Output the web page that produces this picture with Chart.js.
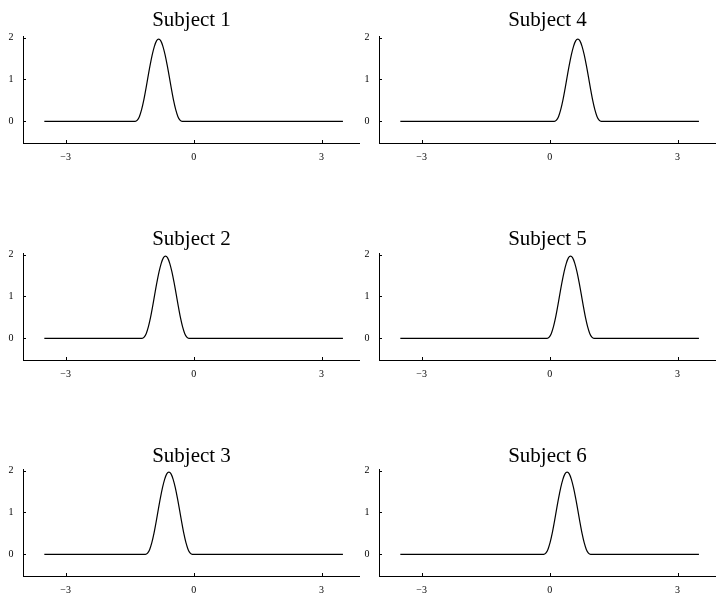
<!DOCTYPE html>
<html><head><meta charset="utf-8">
<script src="https://cdn.jsdelivr.net/npm/chart.js@4.4.1/dist/chart.umd.min.js"></script>
<style>
html,body{margin:0;padding:0;background:#fff;width:716px;height:596px;overflow:hidden;position:relative}
canvas{position:absolute;display:block}
</style></head><body>
<canvas id="c1" width="360" height="165" style="left:0;top:0"></canvas>
<canvas id="c2" width="360" height="165" style="left:0;top:217px"></canvas>
<canvas id="c3" width="360" height="165" style="left:0;top:433px"></canvas>
<canvas id="c4" width="360" height="165" style="left:356px;top:0"></canvas>
<canvas id="c5" width="360" height="165" style="left:356px;top:217px"></canvas>
<canvas id="c6" width="360" height="165" style="left:356px;top:433px"></canvas>
<script>
// ---- data ----
const subjects = ["Subject 1", "Subject 2", "Subject 3", "Subject 4", "Subject 5", "Subject 6"];
const xTicks = [-3, 0, 3];
const yTicks = [0, 1, 2];

// density values (same shape in every panel)
const densityY = [0, 0, 0.03, 0.12, 0.28, 0.50, 0.77, 1.06, 1.34, 1.59, 1.79, 1.92, 1.96,
                  1.92, 1.79, 1.59, 1.34, 1.06, 0.77, 0.50, 0.28, 0.12, 0.03, 0, 0];

const x1 = [-3.5, -1.37, -1.32, -1.27, -1.22, -1.17, -1.12, -1.07, -1.02, -0.97, -0.92, -0.87, -0.82,
            -0.77, -0.72, -0.67, -0.62, -0.57, -0.52, -0.47, -0.42, -0.37, -0.32, -0.27, 3.5];
const x2 = [-3.5, -1.21, -1.16, -1.11, -1.06, -1.01, -0.96, -0.91, -0.86, -0.81, -0.76, -0.71, -0.66,
            -0.61, -0.56, -0.51, -0.46, -0.41, -0.36, -0.31, -0.26, -0.21, -0.16, -0.11, 3.5];
const x3 = [-3.5, -1.13, -1.08, -1.03, -0.98, -0.93, -0.88, -0.83, -0.78, -0.73, -0.68, -0.63, -0.58,
            -0.53, -0.48, -0.43, -0.38, -0.33, -0.28, -0.23, -0.18, -0.13, -0.08, -0.03, 3.5];
const x4 = [-3.5, 0.11, 0.16, 0.21, 0.26, 0.31, 0.36, 0.41, 0.46, 0.51, 0.56, 0.61, 0.66,
            0.71, 0.76, 0.81, 0.86, 0.91, 0.96, 1.01, 1.06, 1.11, 1.16, 1.21, 3.5];
const x5 = [-3.5, -0.06, -0.01, 0.04, 0.09, 0.14, 0.19, 0.24, 0.29, 0.34, 0.39, 0.44, 0.49,
            0.54, 0.59, 0.64, 0.69, 0.74, 0.79, 0.84, 0.89, 0.94, 0.99, 1.04, 3.5];
const x6 = [-3.5, -0.14, -0.09, -0.04, 0.01, 0.06, 0.11, 0.16, 0.21, 0.26, 0.31, 0.36, 0.41,
            0.46, 0.51, 0.56, 0.61, 0.66, 0.71, 0.76, 0.81, 0.86, 0.91, 0.96, 3.5];

const xSeries = [x1, x2, x3, x4, x5, x6];

// ---- drawing ----
const SERIF = "'Liberation Serif', 'Times New Roman', serif";
const titleShift = [0, 2, 3, 0, 2, 3];

const inwardTicks = {
  id: 'inwardTicks',
  afterDraw(chart) {
    const ctx = chart.ctx, xs = chart.scales.x, ys = chart.scales.y;
    ctx.save();
    ctx.strokeStyle = '#000';
    ctx.lineWidth = 1;
    ctx.beginPath();
    xs.ticks.forEach(t => {
      const px = Math.round(xs.getPixelForValue(t.value)) + 0.5;
      ctx.moveTo(px, Math.round(xs.top));
      ctx.lineTo(px, Math.round(xs.top) - 3);
    });
    ys.ticks.forEach(t => {
      const py = Math.round(ys.getPixelForValue(t.value)) + 0.5;
      ctx.moveTo(Math.round(ys.right), py);
      ctx.lineTo(Math.round(ys.right) + 3, py);
    });
    ctx.stroke();
    ctx.restore();
  }
};

function fmt(v) { return v < 0 ? '\u2212' + Math.abs(v) : String(v); }

subjects.forEach((name, i) => {
  const xs = xSeries[i];
  new Chart(document.getElementById('c' + (i + 1)), {
    type: 'line',
    data: {
      datasets: [{
        data: xs.map((x, k) => ({ x: x, y: densityY[k] })),
        borderColor: '#000',
        borderWidth: 1.2,
        pointRadius: 0,
        fill: false,
        cubicInterpolationMode: 'monotone'
      }]
    },
    options: {
      responsive: false,
      animation: false,
      events: [],
      layout: { padding: 0 },
      plugins: {
        legend: { display: false },
        tooltip: { enabled: false },
        title: {
          display: true, text: name, fullSize: false, color: '#000',
          font: { family: SERIF, size: 21, weight: 'normal', lineHeight: 1.2 },
          padding: { top: 8 + titleShift[i], bottom: 2.8 - titleShift[i] }
        }
      },
      scales: {
        x: {
          type: 'linear', min: -4, max: 3.9,
          afterBuildTicks: s => { s.ticks = xTicks.map(v => ({ value: v })); },
          afterFit: s => { s.height = 22; },
          grid: { display: true, drawOnChartArea: false, drawTicks: false, color: 'rgba(0,0,0,0)' },
          border: { display: true, color: '#000', width: 1 },
          ticks: { padding: 8, color: '#000', autoSkip: false, maxRotation: 0,
                   font: { family: SERIF, size: 10 }, callback: v => fmt(v) }
        },
        y: {
          type: 'linear', min: -0.513, max: 2.036,
          afterBuildTicks: s => { s.ticks = yTicks.map(v => ({ value: v })); },
          afterFit: s => { s.width = 23; },
          grid: { display: true, drawOnChartArea: false, drawTicks: false, color: 'rgba(0,0,0,0)' },
          border: { display: true, color: '#000', width: 1 },
          ticks: { padding: 9.5, color: '#000', autoSkip: false,
                   font: { family: SERIF, size: 10 }, callback: v => fmt(v) }
        }
      }
    },
    plugins: [inwardTicks]
  });
});
</script>
</body></html>
